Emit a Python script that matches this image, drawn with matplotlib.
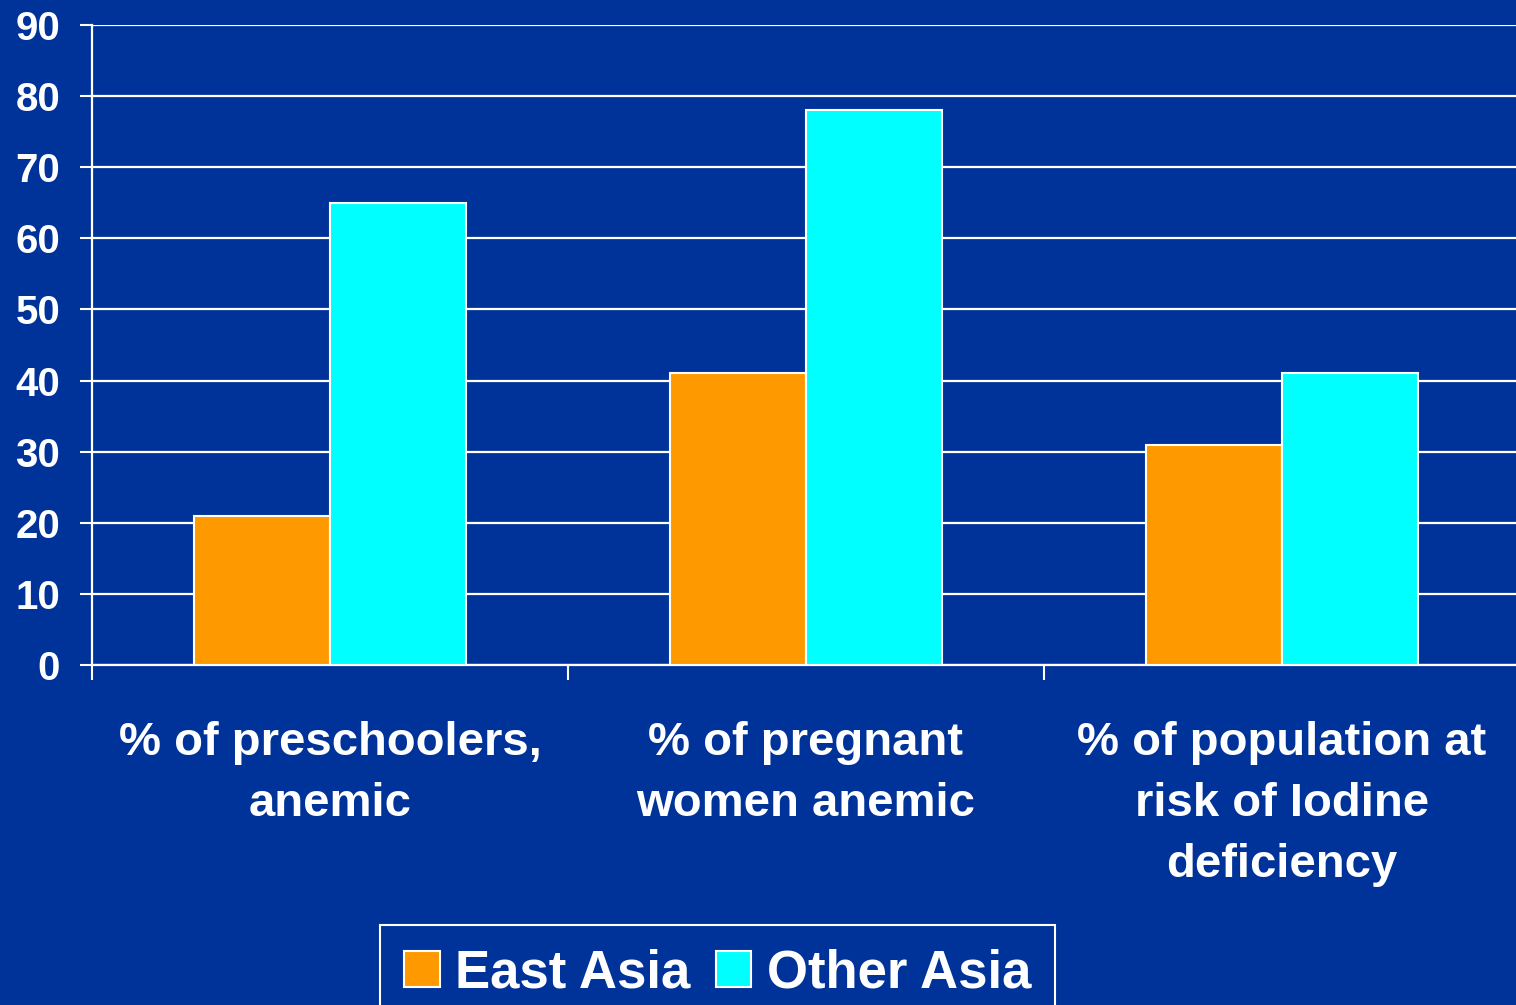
import numpy as np
import matplotlib.pyplot as plt
from matplotlib.ticker import FixedLocator

categories = ["% of preschoolers,\nanemic",
              "% of pregnant\nwomen anemic",
              "% of population at\nrisk of Iodine\ndeficiency"]
east_asia = [21, 41, 31]
other_asia = [65, 78, 41]
y_ticks = [0, 10, 20, 30, 40, 50, 60, 70, 80, 90]

bg = "#003399"
plt.rcParams["font.family"] = ["Liberation Sans", "DejaVu Sans"]
plt.rcParams["font.weight"] = "bold"

fig = plt.figure(figsize=(15.16, 10.05), dpi=100, facecolor=bg)
ax = fig.add_axes([92/1516, 1-665/1005, 1428/1516, 640/1005])
ax.set_facecolor(bg)

x = np.arange(len(categories))
w = 0.286
ax.set_axisbelow(True)
ax.yaxis.grid(True, color="white", linewidth=1.6)
ax.bar(x - w/2, east_asia, w, color="#FF9900", edgecolor="white",
       linewidth=1.5, label="East Asia", zorder=3)
ax.bar(x + w/2, other_asia, w, color="#00FFFF", edgecolor="white",
       linewidth=1.5, label="Other Asia", zorder=3)

ax.set_xlim(-0.5, 2.5)
ax.set_ylim(0, 90)
ax.set_yticks(y_ticks)
ax.tick_params(axis="y", colors="white", labelsize=29, length=9,
               width=1.5, pad=14)
ax.set_xticks(x)
ax.set_xticklabels(categories, fontsize=34, color="white",
                   linespacing=1.5)
ax.tick_params(axis="x", which="major", length=0, pad=40)
ax.xaxis.set_minor_locator(FixedLocator([-0.5, 0.5, 1.5]))
ax.tick_params(axis="x", which="minor", length=11, width=1.5,
               color="white")

for s in ["top", "right"]:
    ax.spines[s].set_visible(False)
for s in ["left", "bottom"]:
    ax.spines[s].set_color("white")
    ax.spines[s].set_linewidth(1.6)

leg = fig.legend(loc="upper left", bbox_to_anchor=(380/1516, 1-925/1005),
                 borderaxespad=0, ncol=2, fontsize=38, frameon=True,
                 fancybox=False, facecolor=bg, edgecolor="white",
                 labelcolor="white", handlelength=0.68, handleheight=0.68,
                 handletextpad=0.3, columnspacing=0.47, borderpad=0.45,
                 framealpha=1)
leg.get_frame().set_linewidth(1.5)

plt.savefig("out.png", dpi=100, facecolor=bg)
